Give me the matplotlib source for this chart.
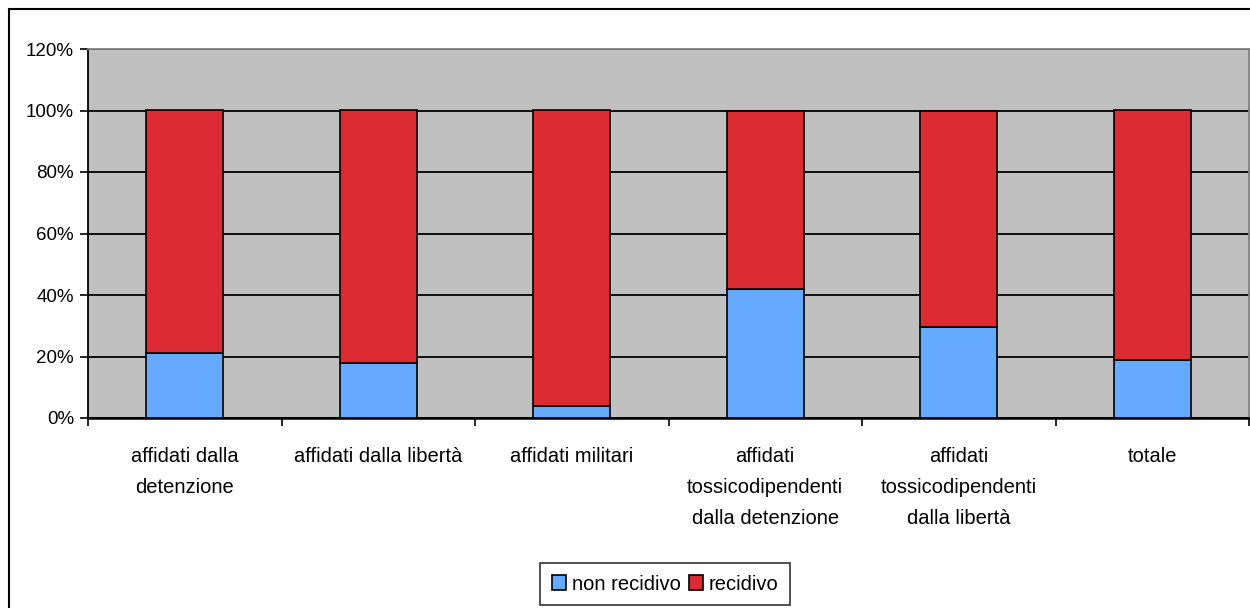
import matplotlib
matplotlib.use("Agg")
import matplotlib.pyplot as plt
from matplotlib.lines import Line2D
from matplotlib.ticker import FuncFormatter, FixedLocator
import numpy as np

plt.rcParams['font.family'] = ['Liberation Sans', 'DejaVu Sans']

categories = ["affidati dalla\ndetenzione", "affidati dalla libertà", "affidati militari",
              "affidati\ntossicodipendenti\ndalla detenzione",
              "affidati\ntossicodipendenti\ndalla libertà", "totale"]
non_recidivo = [21.1, 18.0, 3.8, 41.9, 29.6, 18.7]
recidivo = [100 - v for v in non_recidivo]
series_names = ["non recidivo", "recidivo"]
yticks = [0, 20, 40, 60, 80, 100, 120]

blue = "#66AAFF"
red = "#DD2B33"

fig = plt.figure(figsize=(12.5, 6.08), dpi=100)
ax = fig.add_axes([88/1250, 1-418/608, (1249-88)/1250, (418-49)/608])
ax.set_facecolor("#C0C0C0")

x = np.arange(len(categories))
ax.bar(x, non_recidivo, width=0.4, color=blue, edgecolor="black", linewidth=1.2,
       label=series_names[0], zorder=3)
ax.bar(x, recidivo, width=0.4, bottom=non_recidivo, color=red, edgecolor="black",
       linewidth=1.2, label=series_names[1], zorder=3)

ax.set_xlim(-0.5, len(categories) - 0.5)
ax.set_ylim(0, 120)
ax.set_yticks(yticks)
ax.yaxis.set_major_formatter(FuncFormatter(lambda v, p: f"{int(v)}%"))
ax.grid(axis="y", color="black", linewidth=1.3, zorder=1)
ax.set_axisbelow(True)

ax.xaxis.set_major_locator(FixedLocator(np.arange(len(categories) + 1) - 0.5))
ax.xaxis.set_major_formatter(FuncFormatter(lambda v, p: ""))
ax.xaxis.set_minor_locator(FixedLocator(x))
ax.set_xticklabels(categories, minor=True)
ax.tick_params(axis="x", which="minor", length=0, pad=21, labelsize=14.5)
ax.tick_params(axis="x", which="major", length=6, width=1.2, direction="out")
ax.tick_params(axis="y", length=6, width=1.2, direction="out", labelsize=13.5, pad=4)
for lbl in ax.get_xticklabels(minor=True):
    lbl.set_linespacing(1.78)

ax.spines["left"].set_color("black")
ax.spines["left"].set_linewidth(1.3)
ax.spines["bottom"].set_color("black")
ax.spines["bottom"].set_linewidth(1.8)
ax.spines["top"].set_color("#808080")
ax.spines["top"].set_linewidth(1.3)
ax.spines["right"].set_color("#808080")
ax.spines["right"].set_linewidth(1.3)

leg = fig.legend(loc="center", bbox_to_anchor=(665/1250, 1-584/608), ncol=2,
                 frameon=True, fancybox=False, edgecolor="black", fontsize=14.5,
                 handlelength=0.7, handleheight=0.7, handletextpad=0.3,
                 columnspacing=0.4, borderpad=0.55, borderaxespad=0)
leg.get_frame().set_linewidth(1.2)

# figure frame (left and top edges)
fig.add_artist(Line2D([9/1250, 9/1250], [0, 1-9/608], transform=fig.transFigure,
                      color="black", linewidth=1.5))
fig.add_artist(Line2D([9/1250, 1], [1-9/608, 1-9/608], transform=fig.transFigure,
                      color="black", linewidth=1.5))

fig.savefig("out.png", dpi=100)
